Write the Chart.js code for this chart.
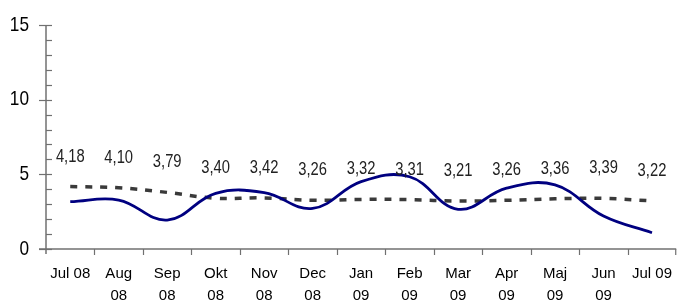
<!DOCTYPE html>
<html>
<head>
<meta charset="utf-8">
<script src="https://cdn.jsdelivr.net/npm/chart.js@4/dist/chart.umd.min.js"></script>
<style>
  html, body { margin: 0; padding: 0; background: #fff; }
  #wrap { width: 678px; height: 301px; }
</style>
</head>
<body>
<div id="wrap"><canvas id="grafico"></canvas></div>
<script>
// Månader på x-axeln
const labels = [
    "Jul 08", ["Aug", "08"], ["Sep", "08"], ["Okt", "08"], ["Nov", "08"], ["Dec", "08"],
    ["Jan", "09"], ["Feb", "09"], ["Mar", "09"], ["Apr", "09"], ["Maj", "09"], ["Jun", "09"], "Jul 09"
];

// Streckad serie (värdena skrivs ut ovanför)
const streckad = [4.18, 4.10, 3.79, 3.40, 3.42, 3.26, 3.32, 3.31, 3.21, 3.26, 3.36, 3.39, 3.22];

// Heldragen blå serie
const heldragen = [3.17, 3.28, 1.94, 3.73, 3.77, 2.72, 4.51, 4.84, 2.66, 4.07, 4.29, 2.21, 1.09];

// Y-axelns skala
const yMin = 0;
const yMax = 15;
const yEtiketter = [0, 5, 10, 15];

const axelFarg = "#707070";

// smal text (ingen Narrow-font installerad, så texten trycks ihop)
function smalText(c, text, x, y, storlek, align) {
    c.save();
    c.font = storlek + "px 'Liberation Sans', Arial, sans-serif";
    c.textBaseline = "middle";
    c.textAlign = align;
    c.translate(x, y);
    c.scale(0.82, 1);
    c.fillText(text, 0, 0);
    c.restore();
}

// Ritar axlar, tickmarkeringar och värdeetiketter
const axlarPlugin = {
    id: "axlar",
    afterDraw(chart) {
        const c = chart.ctx;
        const x = chart.scales.x;
        const y = chart.scales.y;
        const area = chart.chartArea;
        c.save();
        c.strokeStyle = axelFarg;
        c.lineWidth = 1.5;
        // y-axel
        c.beginPath();
        c.moveTo(area.left, y.getPixelForValue(yMax));
        c.lineTo(area.left, area.bottom + 5);
        c.stroke();
        // x-axel
        c.beginPath();
        c.moveTo(area.left - 7, area.bottom);
        c.lineTo(area.right, area.bottom);
        c.stroke();
        c.lineWidth = 1.2;
        // y-ticks
        for (let v = yMin; v <= yMax; v++) {
            const py = Math.round(y.getPixelForValue(v)) + 0.5;
            const major = v % 5 === 0;
            c.beginPath();
            c.moveTo(major ? area.left - 7 : area.left, py);
            c.lineTo(area.left + 6, py);
            c.stroke();
        }
        // x-ticks mellan kategorierna
        for (let i = 1; i <= labels.length; i++) {
            const px = Math.round((x.getPixelForValue(i - 1) + x.getPixelForValue(i)) / 2) + 0.5;
            const pxx = i === labels.length ? area.right - 0.5 : px;
            c.beginPath();
            c.moveTo(pxx, area.bottom);
            c.lineTo(pxx, area.bottom + 6);
            c.stroke();
        }
        // y-etiketter
        c.fillStyle = "#000";
        yEtiketter.forEach(v => {
            smalText(c, String(v), 29, y.getPixelForValue(v), 21, "right");
        });
        // värdeetiketter
        c.fillStyle = "#222";
        streckad.forEach((v, i) => {
            const px = x.getPixelForValue(i);
            const py = y.getPixelForValue(v) - 30;
            smalText(c, v.toFixed(2).replace(".", ","), px, py, 18, "center");
        });
        c.restore();
    }
};

const ctx = document.getElementById("grafico").getContext("2d");

new Chart(ctx, {
    type: "line",
    data: {
        labels: labels,
        datasets: [
            {
                data: heldragen,
                borderColor: "#000080",
                borderWidth: 2.8,
                pointRadius: 0,
                tension: 0.4,
                fill: false
            },
            {
                data: streckad,
                borderColor: "#3a3a3a",
                borderWidth: 3.5,
                borderDash: [7, 8],
                pointRadius: 0,
                tension: 0.4,
                fill: false
            }
        ]
    },
    options: {
        responsive: true,
        maintainAspectRatio: false,
        animation: false,
        layout: { padding: { top: 25, right: 0, left: 0, bottom: 0 } },
        plugins: {
            legend: { display: false },
            tooltip: { enabled: false }
        },
        scales: {
            x: {
                offset: true,
                grid: { display: false },
                border: { display: false },
                afterFit: s => { s.height = 52; },
                ticks: {
                    color: "#000",
                    padding: 6,
                    maxRotation: 0,
                    autoSkip: false,
                    font: { family: "'Liberation Sans', Arial, sans-serif", size: 15, lineHeight: 1.45 }
                }
            },
            y: {
                min: yMin,
                max: yMax,
                grid: { display: false },
                border: { display: false },
                afterFit: s => { s.width = 46; },
                ticks: { display: false, stepSize: 1 }
            }
        }
    },
    plugins: [axlarPlugin]
});
</script>
</body>
</html>
